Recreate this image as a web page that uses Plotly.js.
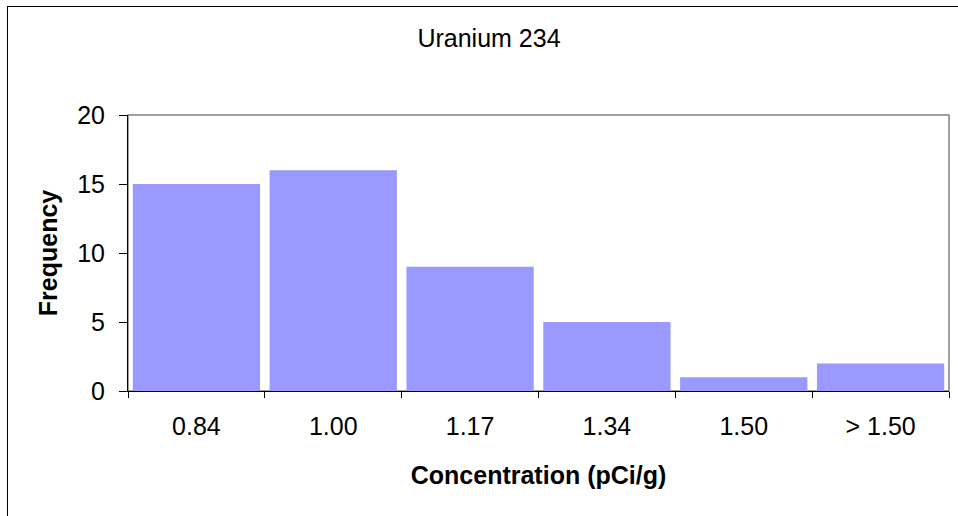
<!DOCTYPE html>
<html>
<head>
<meta charset="utf-8">
<script src="https://cdn.plot.ly/plotly-3.0.1.min.js"></script>
<style>
  html, body { margin: 0; padding: 0; background: white; }
  #frame { position: absolute; left: 7px; top: 6px; width: 1000px; height: 600px;
           border-left: 1px solid #000; border-top: 1px solid #000; }
  #chart { position: absolute; left: 0; top: 0; width: 958px; height: 516px; }
</style>
</head>
<body>
<div id="frame"></div>
<div id="chart"></div>
<script>
// Uranium 234 histogram
const bins = ['0.84', '1.00', '1.17', '1.34', '1.50', '> 1.50'];
const frequency = [15, 16, 9, 5, 1, 2];
const yTicks = [0, 5, 10, 15, 20];

const FONT = { family: 'Liberation Sans, Arial, sans-serif', color: '#000', size: 25 };

const traces = [{
    type: 'bar',
    x: bins, y: frequency,
    marker: { color: '#9999ff', line: { width: 0 } },
    hoverinfo: 'x+y',
}];

const layout = {
    width: 958, height: 516,
    paper_bgcolor: 'rgba(0,0,0,0)', plot_bgcolor: 'white',
    font: FONT,
    margin: { l: 128, r: 9, t: 115, b: 125 },
    bargap: 0.07,
    showlegend: false,
    title: {
        text: 'Uranium 234', font: { size: 25 },
        x: 489 / 958, xref: 'container', xanchor: 'center',
        y: 1 - 38 / 516, yref: 'container', yanchor: 'middle',
    },
    xaxis: {
        type: 'category',
        showline: true, linecolor: '#000', linewidth: 1,
        ticks: 'outside', tickson: 'boundaries', ticklen: 6, tickcolor: '#000',
        showgrid: false, zeroline: false,
        ticklabelstandoff: 13,
        title: { text: 'Concentration (pCi/g)', font: { size: 25, weight: 'bold' }, standoff: 27 },
    },
    yaxis: {
        range: [0, 20], tickvals: yTicks,
        showline: true, linecolor: '#000', linewidth: 1,
        ticks: 'outside', ticklen: 8, tickcolor: '#000',
        showgrid: false, zeroline: false,
        ticklabelstandoff: 9,
        title: { text: 'Frequency', font: { size: 25, weight: 'bold' }, standoff: 12 },
    },
    shapes: [{
        type: 'rect', xref: 'paper', yref: 'paper', x0: 0, x1: 1, y0: 0, y1: 1,
        line: { color: '#808080', width: 1.5 }, layer: 'below',
    }],
};

Plotly.newPlot('chart', traces, layout, { displayModeBar: false, staticPlot: true });
</script>
</body>
</html>
